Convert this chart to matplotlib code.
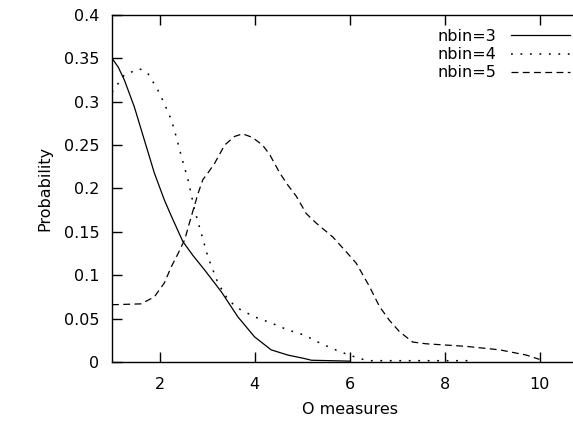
"""Probability curves for three bin counts, gnuplot-like styling."""

import matplotlib.pyplot as plt

plt.switch_backend("Agg")

# nbin=3 (solid)
nbin3_x = [1.0, 1.13, 1.26, 1.47, 1.68, 1.89, 2.1, 2.25, 2.49, 2.7, 2.95, 3.3, 3.65, 4.0, 4.35, 4.7,
           5.05, 5.2, 6.0]
nbin3_y = [0.350, 0.340, 0.325, 0.294, 0.256, 0.218, 0.187, 0.168, 0.139, 0.123, 0.106, 0.081, 0.052,
           0.029, 0.014, 0.008, 0.004, 0.002, 0.001]

# nbin=4 (dotted)
nbin4_x = [1.0, 1.26, 1.58, 1.75, 1.96, 2.1, 2.25, 2.35, 2.46, 2.6, 2.74, 2.88, 3.02, 3.23, 3.44,
           3.65, 4.0, 4.35, 4.7, 5.05, 5.37, 5.79, 6.0, 6.21, 6.4, 8.53]
nbin4_y = [0.311, 0.331, 0.338, 0.333, 0.314, 0.298, 0.279, 0.260, 0.237, 0.210, 0.175, 0.148, 0.121,
           0.091, 0.072, 0.062, 0.052, 0.045, 0.037, 0.031, 0.022, 0.012, 0.008, 0.004, 0.0015, 0.0015]

# nbin=5 (dashed)
nbin5_x = [1.0, 1.61, 1.89, 2.1, 2.25, 2.39, 2.53, 2.67, 2.81, 2.91, 3.02, 3.16, 3.37, 3.58, 3.75,
           3.95, 4.17, 4.32, 4.53, 4.7, 4.88, 5.09, 5.3, 5.65, 5.93, 6.14, 6.42, 6.63, 6.84, 7.05,
           7.33, 7.61, 8.46, 9.16, 9.72, 10.0]
nbin5_y = [0.066, 0.067, 0.075, 0.091, 0.110, 0.125, 0.141, 0.168, 0.194, 0.210, 0.218, 0.229, 0.250,
           0.260, 0.263, 0.259, 0.250, 0.239, 0.218, 0.204, 0.191, 0.171, 0.160, 0.144, 0.127, 0.114,
           0.087, 0.064, 0.048, 0.035, 0.023, 0.021, 0.018, 0.014, 0.008, 0.003]

x_ticks = [2, 4, 6, 8, 10]
y_ticks = [0, 0.05, 0.1, 0.15, 0.2, 0.25, 0.3, 0.35, 0.4]
y_ticklabels = ["0", "0.05", "0.1", "0.15", "0.2", "0.25", "0.3", "0.35", "0.4"]

plt.rcParams["font.family"] = ["DejaVu Sans"]
plt.rcParams["font.size"] = 11.5

fig = plt.figure(figsize=(5.73, 4.22), dpi=100)
# right edge runs past the figure, so the right border is cut off
ax = fig.add_axes([0.1955, 0.1422, 0.829, 0.8223])

lw = 0.9
ax.plot(nbin3_x, nbin3_y, color="black", lw=lw, label="nbin=3")
ax.plot(nbin4_x, nbin4_y, color="black", lw=1.1, linestyle=(0, (1.2, 5.0)), label="nbin=4")
ax.plot(nbin5_x, nbin5_y, color="black", lw=lw, linestyle=(0, (5.5, 3.5)), label="nbin=5")

ax.set_xlim(1, 11)
ax.set_ylim(0, 0.4)
ax.set_xticks(x_ticks)
ax.set_yticks(y_ticks)
ax.set_yticklabels(y_ticklabels)

ax.tick_params(direction="in", length=7, width=1.0, top=True, right=True)
ax.tick_params(axis="x", pad=11)
ax.tick_params(axis="y", pad=9)
for side in ax.spines.values():
    side.set_linewidth(1.0)

ax.set_xlabel("O measures", labelpad=7)
ax.set_ylabel("Probability", labelpad=8)

ax.legend(loc="upper left", bbox_to_anchor=(0.665, 0.987), frameon=False, markerfirst=False,
          handlelength=3.7, handletextpad=0.9, labelspacing=0.2, borderaxespad=0.2,
          fontsize=11.5)

fig.savefig("out.png", dpi=100)
